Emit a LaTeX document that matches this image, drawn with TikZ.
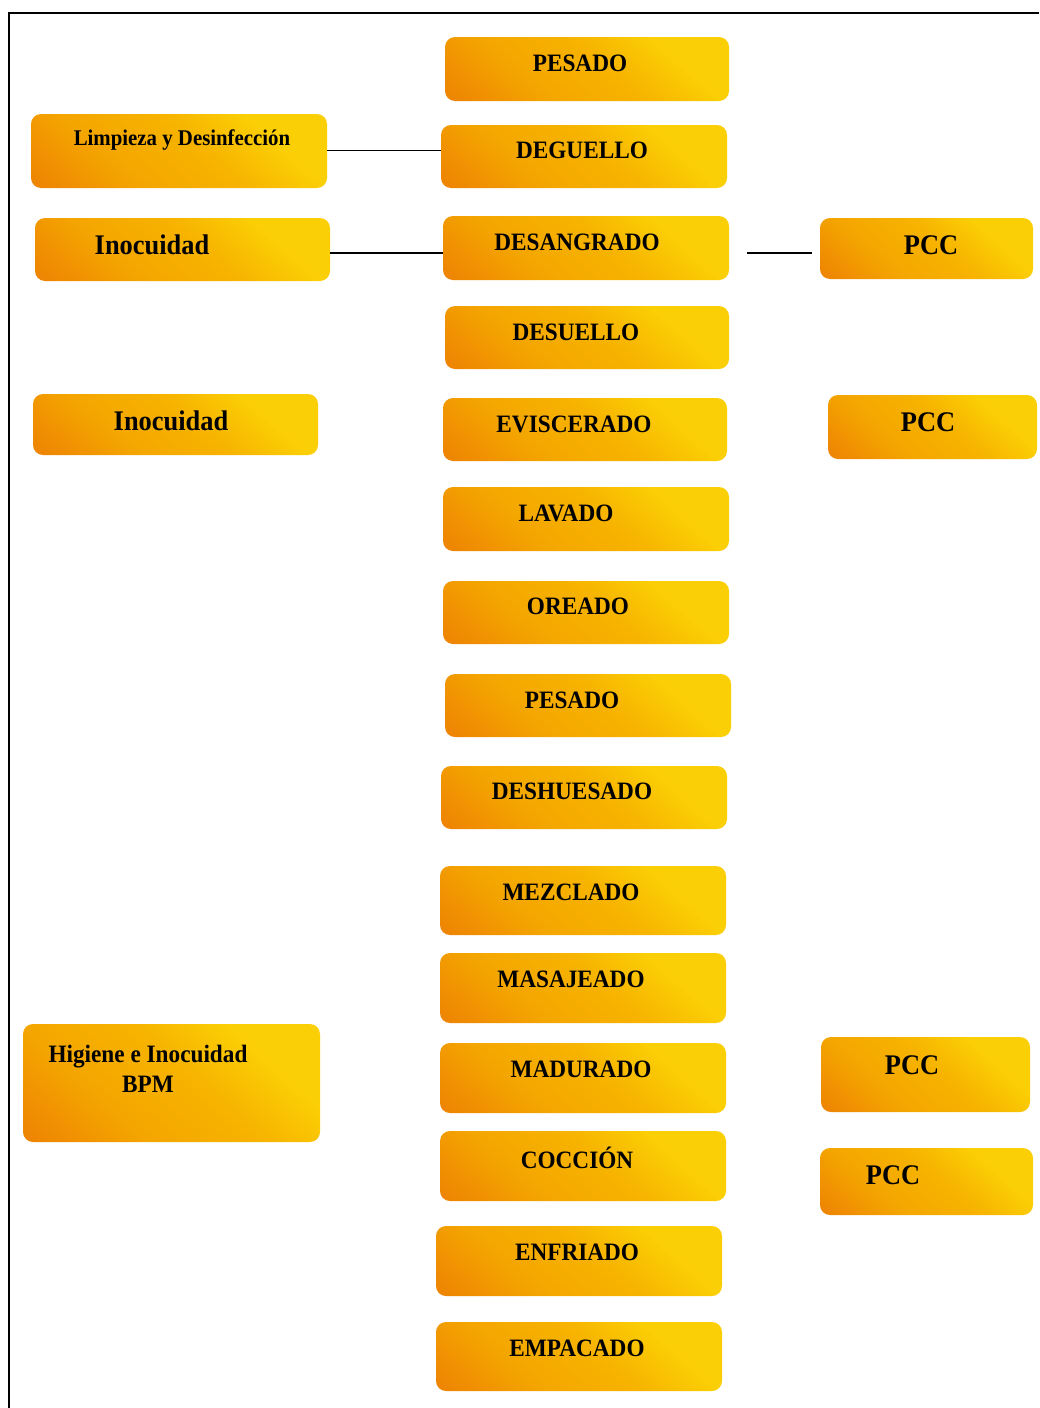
\documentclass[tikz,border=0pt]{standalone}
\usepackage{fontspec}
\setmainfont{Liberation Serif}[FakeStretch=0.93]
\definecolor{cOr}{HTML}{EA7806}
\definecolor{cOr2}{HTML}{F08E02}
\definecolor{cAm}{HTML}{F4A600}
\definecolor{cAm2}{HTML}{F7B400}
\definecolor{cYe}{HTML}{FBCF05}
\pgfdeclarehorizontalshading{boxsh}{100bp}{color(0bp)=(cOr); color(8bp)=(cOr); color(22bp)=(cOr2); color(36bp)=(cAm); color(55bp)=(cAm2); color(70bp)=(cYe); color(84bp)=(cYe); color(100bp)=(cAm2)}
\tikzset{
  boxst/.style={shading=boxsh, shading angle=48, rounded corners=5pt, inner sep=0pt, outer sep=0pt},
  lbl/.style={font=\bfseries\fontsize{12.5}{15}\selectfont, inner sep=0pt, text=black},
  lblbig/.style={font=\bfseries\fontsize{14.2}{17}\selectfont, inner sep=0pt, text=black},
  lblsmall/.style={font=\bfseries\fontsize{11.2}{13}\selectfont, inner sep=0pt, text=black},
  conn/.style={line width=0.5pt, black},
  connb/.style={line width=1pt, black},
  frame/.style={line width=1pt, black},
}
\newcommand\obox[5]{\node[boxst, minimum width={(#4-#2)*0.5pt}, minimum height={(#5-#3)*0.5pt}] (#1) at ({(#2+#4)/2},{(#3+#5)/2}) {};}
\begin{document}
\begin{tikzpicture}[x=0.5pt,y=-0.5pt]
\useasboundingbox[fill=white] (0,0) rectangle (1039,1408);
% frame
\coordinate (fa) at (9,1408);
\coordinate (fb) at (9,13);
\coordinate (fc) at (1039,13);
\draw[frame] (fa) -- (fb) -- (fc);
% main column
\obox{b1}{445}{37}{729}{101}
\obox{b2}{441}{125}{727}{188}
\obox{b3}{443}{216}{729}{280}
\obox{b4}{445}{306}{729}{369}
\obox{b5}{443}{398}{727}{461}
\obox{b6}{443}{487}{729}{551}
\obox{b7}{443}{581}{729}{644}
\obox{b8}{445}{674}{731}{737}
\obox{b9}{441}{766}{727}{829}
\obox{b10}{440}{866}{726}{935}
\obox{b11}{440}{953}{726}{1023}
\obox{b12}{440}{1043}{726}{1113}
\obox{b13}{440}{1131}{726}{1201}
\obox{b14}{436}{1226}{722}{1296}
\obox{b15}{436}{1322}{722}{1391}
\node[lbl] (t1) at (580,63) {PESADO};
\node[lbl] (t2) at (582,150) {DEGUELLO};
\node[lbl] (t3) at (577,242) {DESANGRADO};
\node[lbl] (t4) at (576,332) {DESUELLO};
\node[lbl] (t5) at (574,424) {EVISCERADO};
\node[lbl] (t6) at (566,513) {LAVADO};
\node[lbl] (t7) at (578,606) {OREADO};
\node[lbl] (t8) at (572,700) {PESADO};
\node[lbl] (t9) at (572,791) {DESHUESADO};
\node[lbl] (t10) at (571,892) {MEZCLADO};
\node[lbl] (t11) at (571,979) {MASAJEADO};
\node[lbl] (t12) at (581,1069) {MADURADO};
\node[lbl] (t13) at (577,1158) {COCCIÓN};
\node[lbl] (t14) at (577,1252) {ENFRIADO};
\node[lbl] (t15) at (577,1348) {EMPACADO};
% left column
\obox{l1}{31}{114}{327}{188}
\obox{l2}{35}{218}{330}{281}
\obox{l3}{33}{394}{318}{455}
\obox{l4}{23}{1024}{320}{1142}
\node[lblsmall] (u1) at (182,140) {Limpieza y Desinfección};
\node[lblbig] (u2) at (152,245) {Inocuidad};
\node[lblbig] (u3) at (171,421) {Inocuidad};
\node[lbl, align=center] (u4) at (148,1069) {Higiene e Inocuidad\\BPM};
% right column
\obox{r1}{820}{218}{1033}{279}
\obox{r2}{828}{395}{1037}{459}
\obox{r3}{821}{1037}{1030}{1112}
\obox{r4}{820}{1148}{1033}{1215}
\node[lblbig] (v1) at (931,245) {PCC};
\node[lblbig] (v2) at (928,422) {PCC};
\node[lblbig] (v3) at (912,1065) {PCC};
\node[lblbig] (v4) at (893,1175) {PCC};
% connectors
\draw[conn] (l1.east |- 0,150) -- (b2.west |- 0,150);
\draw[connb] (l2.east |- 0,253) -- (b3.west |- 0,253);
\coordinate (pa) at (747,253);
\coordinate (pb) at (812,253);
\draw[connb] (pa) -- (pb);
\end{tikzpicture}
\end{document}
